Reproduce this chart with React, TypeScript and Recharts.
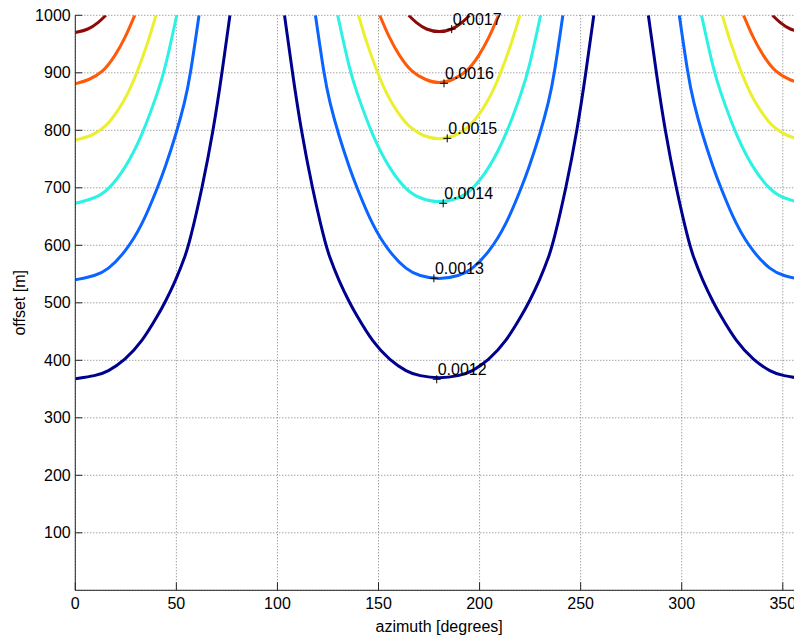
import React from 'react';
import { ComposedChart, Line, XAxis, YAxis, CartesianGrid, ReferenceDot } from 'recharts';

const levels = ['0.0012', '0.0013', '0.0014', '0.0015', '0.0016', '0.0017'];
const levelColors = ['#00008f', '#0a64ff', '#2cf2e4', '#ebef2e', '#ff5a0a', '#8c0a0a'];

// left half of each contour: degrees away from the trough (troughs sit at 0, 180, 360) -> offset [m]
const dist12 = [0, 10, 16, 24.5, 33, 41, 44.3, 49.8, 54.3, 56.8, 62.8, 68.3, 72.6, 76.5];
const off12 = [368, 373, 380, 400, 432, 479, 500, 540, 580, 609, 700, 800, 900, 1000];
const dist13 = [0, 10, 16, 24.5, 33, 41, 44.3, 49.8, 54.3, 56.8, 61.2];
const off13 = [540, 547, 557, 587, 634, 703, 734, 792, 851, 893, 1000];
const dist14 = [0, 10, 16, 24.5, 33, 41, 44.3, 50.2];
const off14 = [673, 682, 695, 732, 790, 868, 905, 1000];
const dist15 = [0, 8, 12.2, 16.3, 24.6, 30, 36, 39.9];
const off15 = [783, 790, 800, 810, 852, 895, 953, 1000];
const dist16 = [0, 6.5, 13.7, 19.6, 24.6, 29.4];
const off16 = [881, 887, 901, 929, 960, 1000];
const dist17 = [0, 6.5, 11.4, 15.1];
const off17 = [970, 975, 987, 1000];

// clabel markers
const labelAz = [178.8, 177.4, 182, 184, 182.4, 186.2];
const labelOff = [367, 542.6, 673, 786, 881.7, 976];

const xTicks = [0, 50, 100, 150, 200, 250, 300, 350];
const yTicks = [100, 200, 300, 400, 500, 600, 700, 800, 900, 1000];

type Pt = { az: number; off: number | null };

// three U shaped branches per level, split by null gaps
function buildSeries(dist: number[], off: number[]): Pt[] {
  const pts: Pt[] = [];
  for (let i = 0; i < dist.length; i++) pts.push({ az: dist[i], off: off[i] });
  pts.push({ az: 90, off: null });
  for (let i = dist.length - 1; i > 0; i--) pts.push({ az: 180 - dist[i], off: off[i] });
  for (let i = 0; i < dist.length; i++) pts.push({ az: 180 + dist[i], off: off[i] });
  pts.push({ az: 270, off: null });
  for (let i = dist.length - 1; i >= 0; i--) pts.push({ az: 360 - dist[i], off: off[i] });
  return pts;
}

const series = [
  buildSeries(dist12, off12),
  buildSeries(dist13, off13),
  buildSeries(dist14, off14),
  buildSeries(dist15, off15),
  buildSeries(dist16, off16),
  buildSeries(dist17, off17),
];

const font = '"Liberation Sans", Arial, Helvetica, sans-serif';

const plusMark = (text: string) => (props: any) => {
  const { cx, cy } = props;
  return (
    <g>
      <line x1={cx - 4} y1={cy} x2={cx + 4} y2={cy} stroke="#000" strokeWidth={1} />
      <line x1={cx} y1={cy - 4} x2={cx} y2={cy + 4} stroke="#000" strokeWidth={1} />
      <text x={cx + 1} y={cy - 4.5} fontSize={16} fill="#000" fontFamily={font}>
        {text}
      </text>
    </g>
  );
};

export default function App() {
  return (
    <div
      style={{
        position: 'absolute',
        left: 0,
        top: 0,
        width: 794,
        height: 637,
        overflow: 'hidden',
        background: '#fff',
        fontFamily: font,
      }}
    >
      <ComposedChart width={813} height={637} margin={{ top: 15.3, right: 10, bottom: 0, left: 15.3 }}>
        <CartesianGrid stroke="#7a7a7a" strokeDasharray="1 2" />
        <XAxis
          dataKey="az"
          type="number"
          domain={[0, 360]}
          ticks={xTicks}
          allowDataOverflow
          height={46.7}
          tickSize={-8}
          tickMargin={15.7}
          stroke="#262626"
          tick={{ fill: '#000', fontSize: 16 }}
          label={{ value: 'azimuth [degrees]', position: 'insideBottom', offset: 5.5, fill: '#000', fontSize: 16 }}
        />
        <XAxis
          xAxisId="top"
          orientation="top"
          type="number"
          domain={[0, 360]}
          ticks={xTicks}
          allowDataOverflow
          height={0}
          tickSize={-8}
          stroke="#262626"
          tick={false}
        />
        <YAxis
          type="number"
          domain={[0, 1000]}
          ticks={yTicks}
          allowDataOverflow
          width={60}
          tickSize={-7}
          tickMargin={11.6}
          stroke="#262626"
          tick={{ fill: '#000', fontSize: 16 }}
          label={{
            value: 'offset [m]',
            position: 'insideLeft',
            angle: -90,
            offset: 4,
            fill: '#000',
            fontSize: 16,
            style: { textAnchor: 'middle' },
          }}
        />
        {series.map((data, i) => (
          <Line
            key={levels[i]}
            data={data}
            dataKey="off"
            name={levels[i]}
            type="basis"
            stroke={levelColors[i]}
            strokeWidth={3}
            dot={false}
            activeDot={false}
            connectNulls={false}
            isAnimationActive={false}
          />
        ))}
        {levels.map((lv, i) => (
          <ReferenceDot key={'lbl' + lv} x={labelAz[i]} y={labelOff[i]} r={0} shape={plusMark(lv)} />
        ))}
      </ComposedChart>
    </div>
  );
}
